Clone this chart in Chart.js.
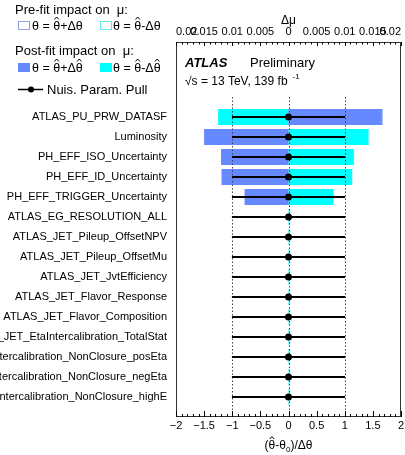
<!DOCTYPE html>
<html>
<head>
<meta charset="utf-8">
<script src="https://cdn.jsdelivr.net/npm/chart.js@4.4.0/dist/chart.umd.min.js"></script>
<style>
html,body{margin:0;padding:0;background:#fff;}
canvas{display:block;}
</style>
</head>
<body>
<canvas id="c" width="405" height="455"></canvas>
<script>
// ---- data (top row first) ----
const parameters = [
  "ATLAS_PU_PRW_DATASF",
  "Luminosity",
  "PH_EFF_ISO_Uncertainty",
  "PH_EFF_ID_Uncertainty",
  "PH_EFF_TRIGGER_Uncertainty",
  "ATLAS_EG_RESOLUTION_ALL",
  "ATLAS_JET_Pileup_OffsetNPV",
  "ATLAS_JET_Pileup_OffsetMu",
  "ATLAS_JET_JvtEfficiency",
  "ATLAS_JET_Flavor_Response",
  "ATLAS_JET_Flavor_Composition",
  "ATLAS_JET_EtaIntercalibration_TotalStat",
  "ATLAS_JET_EtaIntercalibration_NonClosure_posEta",
  "ATLAS_JET_EtaIntercalibration_NonClosure_negEta",
  "ATLAS_JET_EtaIntercalibration_NonClosure_highE"
];
// impact on mu (Delta mu)
const prefitUp   = [0.0168, -0.0150, -0.0120, -0.0119, -0.0078, 0, 0, 0, 0, 0, 0, 0, 0, 0, 0];
const prefitDown = [-0.0125, 0.0144, 0.0117, 0.0114, 0.0080, 0, 0, 0, 0, 0, 0, 0, 0, 0, 0];
const postfitUp   = [0.0166, -0.0150, -0.0120, -0.0119, -0.0078, 0, 0, 0, 0, 0, 0, 0, 0, 0, 0];
const postfitDown = [-0.0125, 0.0142, 0.0116, 0.0113, 0.0080, 0.0002, 0.0002, 0.0002, 0.0002, 0.0002, 0.0002, 0.0002, 0.0002, 0.0002, 0.0002];
// nuisance parameter pulls
const pulls      = [0, 0, 0, 0, 0, 0, 0, 0, 0, 0, 0, 0, 0, 0, 0];
const pullErrors = [1, 1, 1, 1, 1, 1, 1, 1, 1, 1, 1, 1, 1, 1, 1];
// tick labels
const pullTicks = [-2, -1.5, -1, -0.5, 0, 0.5, 1, 1.5, 2];
const impactTicks = [-0.02, -0.015, -0.01, -0.005, 0, 0.005, 0.01, 0.015, 0.02];
const refLines = [-1, 0, 1];

const BLUE = '#6689ff';
const CYAN = '#00ffff';
const FONT = "'Liberation Sans', Arial, Helvetica, sans-serif";
Chart.defaults.font.family = FONT;
Chart.defaults.color = '#000';

const n = parameters.length;
const rowPos = parameters.map((_, i) => n - 1 - i);
const asBars = arr => arr.map((v, i) => ({x: v, y: rowPos[i]}));

const fmtPull = v => (v < 0 ? '\u2212' + Math.abs(v) : String(v));

// draws text where a '^' following a character puts a hat over it
function hatText(ctx, str, x, y, hatY) {
  let cx = x;
  for (let i = 0; i < str.length; i++) {
    const ch = str[i];
    if (ch === '^') continue;
    const w = ctx.measureText(ch).width;
    ctx.fillText(ch, cx, y);
    if (str[i + 1] === '^') {
      ctx.save();
      ctx.lineWidth = 1;
      ctx.strokeStyle = '#000';
      ctx.beginPath();
      ctx.moveTo(cx + w * 0.18, y - hatY);
      ctx.lineTo(cx + w * 0.5, y - hatY - 2.5);
      ctx.lineTo(cx + w * 0.82, y - hatY);
      ctx.stroke();
      ctx.restore();
    }
    cx += w;
  }
  return cx - x;
}

const decor = {
  id: 'decor',
  afterDatasetDraw(chart, args) {
    const ds = chart.data.datasets[args.index];
    if (ds.label !== 'post-up') return;
    const ctx = chart.ctx, xs = chart.scales.x, ys = chart.scales.y, a = chart.chartArea;
    ctx.save();
    ctx.strokeStyle = '#444';
    ctx.lineWidth = 1;
    ctx.setLineDash([1.5, 2]);
    const yTop = ys.getPixelForValue(n);
    refLines.forEach(v => {
      const x = Math.round(xs.getPixelForValue(v)) + 0.5;
      ctx.beginPath(); ctx.moveTo(x, yTop); ctx.lineTo(x, a.bottom); ctx.stroke();
    });
    ctx.restore();
  },
  afterDraw(chart) {
    const ctx = chart.ctx, a = chart.chartArea;
    const xs = chart.scales.x, x2 = chart.scales.x2;
    ctx.save();
    // frame
    ctx.strokeStyle = '#333';
    ctx.lineWidth = 1;
    ctx.strokeRect(Math.round(a.left) + 0.5, Math.round(a.top) + 0.5, Math.round(a.right - a.left) - 1, Math.round(a.bottom - a.top) - 1);
    // bottom ticks (inward)
    ctx.strokeStyle = '#000';
    for (let i = -20; i <= 20; i++) {
      const x = Math.round(xs.getPixelForValue(i / 10)) + 0.5;
      const len = (i % 5 === 0) ? 6 : 3;
      ctx.beginPath(); ctx.moveTo(x, a.bottom); ctx.lineTo(x, a.bottom - len); ctx.stroke();
    }
    // top ticks (inward)
    for (let i = -20; i <= 20; i++) {
      const x = Math.round(x2.getPixelForValue(i / 1000)) + 0.5;
      const len = (i % 5 === 0) ? 4 : 2.5;
      ctx.beginPath(); ctx.moveTo(x, a.top); ctx.lineTo(x, a.top + len); ctx.stroke();
    }
    // bottom axis title
    ctx.fillStyle = '#000';
    ctx.textBaseline = 'alphabetic';
    ctx.textAlign = 'left';
    {
      ctx.font = '12px ' + FONT;
      const t1 = '(\u03B8^-\u03B8', t3 = ')/\u0394\u03B8';
      const w1 = ctx.measureText(t1.replace('^', '')).width;
      ctx.font = '8px ' + FONT;
      const w2 = ctx.measureText('0').width;
      ctx.font = '12px ' + FONT;
      const w3 = ctx.measureText(t3).width;
      const total = w1 + w2 + w3;
      const cx = xs.getPixelForValue(0) - total / 2;
      const by = 449;
      hatText(ctx, t1, cx, by, 10);
      ctx.font = '8px ' + FONT;
      ctx.fillText('0', cx + w1, by + 3);
      ctx.font = '12px ' + FONT;
      ctx.fillText(t3, cx + w1 + w2, by);
    }
    // ATLAS label
    ctx.textBaseline = 'middle';
    ctx.font = 'italic bold 13px ' + FONT;
    ctx.fillText('ATLAS', 185, 63);
    ctx.font = '13px ' + FONT;
    ctx.fillText('Preliminary', 250, 63);
    ctx.font = '12px ' + FONT;
    const s1 = '\u221As = 13 TeV, 139 fb';
    ctx.fillText(s1, 185, 82);
    const w1 = ctx.measureText(s1).width;
    ctx.font = '8px ' + FONT;
    ctx.fillText('-1', 185 + w1 + 5, 77);

    // legend
    ctx.textBaseline = 'alphabetic';
    ctx.font = '13px ' + FONT;
    ctx.fillText('Pre-fit impact on  \u03BC:', 15, 14);
    ctx.lineWidth = 1;
    ctx.strokeStyle = '#8fa3e0';
    ctx.strokeRect(18.5, 21.5, 11, 8);
    ctx.strokeStyle = '#66e6e6';
    ctx.strokeRect(100.5, 21.5, 11, 8);
    ctx.font = '12.5px ' + FONT;
    hatText(ctx, '\u03B8 = \u03B8^+\u0394\u03B8', 32, 30, 10.5);
    hatText(ctx, '\u03B8 = \u03B8^-\u0394\u03B8', 113, 30, 10.5);

    ctx.font = '13px ' + FONT;
    ctx.fillText('Post-fit impact on  \u03BC:', 15, 55);
    ctx.fillStyle = BLUE;
    ctx.fillRect(18, 63, 12, 9);
    ctx.fillStyle = CYAN;
    ctx.fillRect(100, 63, 12, 9);
    ctx.fillStyle = '#000';
    ctx.font = '12.5px ' + FONT;
    hatText(ctx, '\u03B8 = \u03B8^+\u0394\u03B8^', 32, 72, 10.5);
    hatText(ctx, '\u03B8 = \u03B8^-\u0394\u03B8^', 113, 72, 10.5);

    ctx.strokeStyle = '#000';
    ctx.lineWidth = 1.5;
    ctx.beginPath(); ctx.moveTo(18, 89.5); ctx.lineTo(43, 89.5); ctx.stroke();
    ctx.beginPath(); ctx.arc(31, 89.5, 3, 0, Math.PI * 2); ctx.fill();
    ctx.font = '13px ' + FONT;
    ctx.fillText('Nuis. Param. Pull', 47, 94);
    ctx.restore();
  }
};

new Chart(document.getElementById('c'), {
  data: {
    datasets: [
      {type: 'bar', label: 'pre-down', xAxisID: 'x2', yAxisID: 'y', data: asBars(prefitDown),
       backgroundColor: 'rgba(0,0,0,0)', borderColor: '#7eeaea', borderWidth: 1, borderSkipped: false, order: 6},
      {type: 'bar', label: 'pre-up', xAxisID: 'x2', yAxisID: 'y', data: asBars(prefitUp),
       backgroundColor: 'rgba(0,0,0,0)', borderColor: '#a9b9f5', borderWidth: 1, borderSkipped: false, order: 5},
      {type: 'bar', label: 'post-down', xAxisID: 'x2', yAxisID: 'y', data: asBars(postfitDown),
       backgroundColor: CYAN, borderWidth: 0, order: 4},
      {type: 'bar', label: 'post-up', xAxisID: 'x2', yAxisID: 'y', data: asBars(postfitUp),
       backgroundColor: BLUE, borderWidth: 0, order: 3},
      {type: 'bar', label: 'pull-err', xAxisID: 'x', yAxisID: 'y',
       data: pulls.map((p, i) => ({x: [p - pullErrors[i], p + pullErrors[i]], y: rowPos[i]})),
       backgroundColor: '#000', borderWidth: 0, barThickness: 1.5, order: 1},
      {type: 'scatter', label: 'pull', xAxisID: 'x', yAxisID: 'y', indexAxis: 'y',
       data: pulls.map((p, i) => ({x: p, y: rowPos[i]})),
       pointRadius: 3.5, pointBackgroundColor: '#000', pointBorderWidth: 0, showLine: false, order: 0}
    ]
  },
  options: {
    indexAxis: 'y',
    responsive: false,
    animation: false,
    devicePixelRatio: 1,
    layout: {padding: {left: 0, right: 2, top: 0, bottom: 0}},
    datasets: {bar: {grouped: false, barPercentage: 0.8, categoryPercentage: 1.0}},
    plugins: {legend: {display: false}, tooltip: {enabled: false}},
    scales: {
      x: {
        type: 'linear', position: 'bottom', min: -2, max: 2,
        grid: {display: false, drawTicks: false}, border: {display: false},
        afterBuildTicks: s => { s.ticks = pullTicks.map(v => ({value: v})); },
        ticks: {autoSkip: false, maxRotation: 0, padding: 2.5, font: {size: 11}, color: '#000', callback: v => fmtPull(v)},
        title: {display: false},
        afterFit: s => { s.height = 38; s.paddingLeft = 0; s.paddingRight = 0; }
      },
      x2: {
        type: 'linear', position: 'top', min: -0.02, max: 0.02,
        grid: {display: false, drawTicks: false}, border: {display: false},
        afterBuildTicks: s => { s.ticks = impactTicks.map(v => ({value: v})); },
        ticks: {autoSkip: false, maxRotation: 0, padding: 3, align: 'inner', font: {size: 11}, color: '#000', callback: v => String(Math.abs(v))},
        title: {display: true, text: '\u0394\u03BC', color: '#000', font: {size: 12}, padding: {top: 13, bottom: 0}},
        afterFit: s => { s.height = 42; s.paddingLeft = 0; s.paddingRight = 0; }
      },
      y: {
        type: 'linear', position: 'left', min: -1, max: 17.75, offset: false,
        grid: {display: false, drawTicks: false}, border: {display: false},
        afterBuildTicks: s => { s.ticks = rowPos.map(v => ({value: v})); },
        ticks: {autoSkip: false, padding: 9, font: {size: 11}, color: '#000', callback: v => parameters[n - 1 - v]},
        afterFit: s => { s.width = 176; s.paddingTop = 0; s.paddingBottom = 0; }
      }
    }
  },
  plugins: [decor]
});
</script>
</body>
</html>
